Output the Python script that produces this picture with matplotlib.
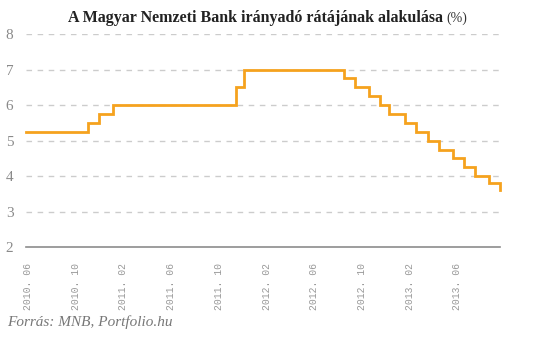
import pandas as pd
import matplotlib
matplotlib.use("Agg")
import matplotlib.pyplot as plt

# MNB base rate: effective date of each decision and the new rate (%)
change_dates = [
    "2010-06-21", "2010-11-23", "2010-12-21", "2011-01-25", "2011-11-30",
    "2011-12-21", "2012-08-29", "2012-09-26", "2012-10-31", "2012-11-28",
    "2012-12-19", "2013-01-30", "2013-02-27", "2013-03-27", "2013-04-24",
    "2013-05-29", "2013-06-26", "2013-07-24", "2013-08-28", "2013-09-25",
]
rates = [
    5.25, 5.5, 5.75, 6.0, 6.5,
    7.0, 6.75, 6.5, 6.25, 6.0,
    5.75, 5.5, 5.25, 5.0, 4.75,
    4.5, 4.25, 4.0, 3.8, 3.6,
]
tick_labels = [
    "2010. 06", "2010. 10", "2011. 02", "2011. 06", "2011. 10",
    "2012. 02", "2012. 06", "2012. 10", "2013. 02", "2013. 06",
]
y_ticks = [2, 3, 4, 5, 6, 7, 8]

dates = pd.to_datetime(change_dates)
# labels sit every 120 days, a few days after the first point
tick_dates = pd.date_range(dates[0] + pd.Timedelta(days=5),
                           periods=len(tick_labels), freq="120D")

fig = plt.figure(figsize=(5.33, 3.44), dpi=100)
ax = fig.add_axes([26 / 533, 1 - 247.3 / 344, 474 / 533, 213.3 / 344])

ax.plot(dates, rates, drawstyle="steps-post", color="#f5a21e", lw=2.0,
        solid_joinstyle="miter", clip_on=False, zorder=3)

ax.set_xlim(dates[0], dates[-1])
ax.set_ylim(2, 8)
ax.set_yticks(y_ticks)
ax.set_yticklabels([str(v) for v in y_ticks], family="Liberation Serif",
                   fontsize=11, color="#8a8a8a")
ax.set_xticks(tick_dates)
ax.set_xticklabels(tick_labels, rotation=90, family="Liberation Mono",
                   fontsize=7, color="#999999")
ax.tick_params(axis="y", length=0, pad=9)
ax.tick_params(axis="x", length=0, pad=11)

for v in y_ticks[1:]:
    ax.axhline(v, color="#cccccc", lw=1, ls=(0, (4, 4)), zorder=1)
for s in ["top", "right", "left"]:
    ax.spines[s].set_visible(False)
ax.spines["bottom"].set_color("#8c8c8c")
ax.spines["bottom"].set_linewidth(1.2)

fig.text(443 / 533, 1 - 22 / 344, "A Magyar Nemzeti Bank irányadó rátájának alakulása",
         ha="right", va="baseline", family="Liberation Serif", fontweight="bold",
         fontsize=11.5, color="#222222")
fig.text(446 / 533, 1 - 22 / 344, "(%)", ha="left", va="baseline",
         family="Liberation Serif", fontsize=10, color="#333333")
fig.text(7 / 533, 1 - 326 / 344, "Forrás: MNB, Portfolio.hu", ha="left", va="baseline",
         family="Liberation Serif", style="italic", fontsize=11, color="#777777")

fig.savefig("out.png", dpi=100)
